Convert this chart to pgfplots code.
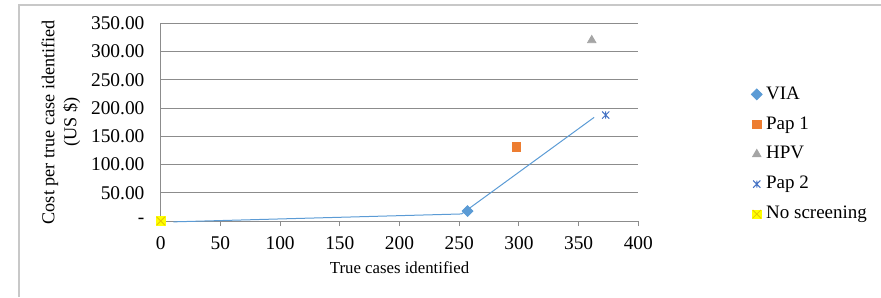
\documentclass[border=0pt]{standalone}
\usepackage{pgfplots}
\pgfplotsset{compat=1.18}
\usepackage{fontspec}
\setmainfont{Liberation Serif}
\definecolor{cvia}{HTML}{5B9BD5}
\definecolor{cpap}{HTML}{ED7D31}
\definecolor{chpv}{HTML}{A5A5A5}
\definecolor{cpap2}{HTML}{4472C4}
\definecolor{cnone}{HTML}{FFFF00}
\definecolor{cnonex}{HTML}{E6C800}
\definecolor{cgrid}{HTML}{8C8C8C}
\definecolor{cframe}{HTML}{C8C8C8}
\pgfdeclareplotmark{xstar}{%
  \pgfpathmoveto{\pgfqpoint{-\pgfplotmarksize}{-\pgfplotmarksize}}%
  \pgfpathlineto{\pgfqpoint{\pgfplotmarksize}{\pgfplotmarksize}}%
  \pgfpathmoveto{\pgfqpoint{-\pgfplotmarksize}{\pgfplotmarksize}}%
  \pgfpathlineto{\pgfqpoint{\pgfplotmarksize}{-\pgfplotmarksize}}%
  \pgfpathmoveto{\pgfqpoint{0pt}{-\pgfplotmarksize}}%
  \pgfpathlineto{\pgfqpoint{0pt}{\pgfplotmarksize}}%
  \pgfusepathqstroke}
\pgfdeclareplotmark{xsquare}{%
  \pgfsetfillcolor{cnone}\pgfsetstrokecolor{cnone}%
  \pgfpathrectangle{\pgfqpoint{-\pgfplotmarksize}{-\pgfplotmarksize}}{\pgfqpoint{2\pgfplotmarksize}{2\pgfplotmarksize}}%
  \pgfusepathqfillstroke
  \pgfsetstrokecolor{cnonex}%
  \pgfpathmoveto{\pgfqpoint{-\pgfplotmarksize}{-\pgfplotmarksize}}%
  \pgfpathlineto{\pgfqpoint{\pgfplotmarksize}{\pgfplotmarksize}}%
  \pgfpathmoveto{\pgfqpoint{-\pgfplotmarksize}{\pgfplotmarksize}}%
  \pgfpathlineto{\pgfqpoint{\pgfplotmarksize}{-\pgfplotmarksize}}%
  \pgfusepathqstroke}
\begin{document}
\begin{tikzpicture}
\useasboundingbox (0,0) rectangle (440.5pt,148.5pt);
\draw[cframe,line width=0.8pt] (9.5pt,0pt) -- (9.5pt,146pt) -- (440.5pt,146pt);
\begin{axis}[
  at={(80.35pt,38pt)}, anchor=south west,
  scale only axis, width=238.8pt, height=98.85pt,
  xmin=0, xmax=400, ymin=0, ymax=350,
  clip=false,
  axis line style={cgrid, line width=0.5pt},
  axis x line*=bottom, axis y line*=left,
  x axis line style={-}, y axis line style={-},
  xtick={0,50,...,400},
  ytick={0,50,...,350},
  yticklabels={-\hspace{5.5pt},50.00,100.00,150.00,200.00,250.00,300.00,350.00},
  ymajorgrids, grid style={cgrid, line width=0.5pt},
  xtick style={cgrid, line width=0.5pt},
  xtick align=outside, major tick length=2.5pt,
  ytick style={draw=none},
  tick label style={font=\fontsize{9.7}{11}\selectfont},
  /pgf/number format/assume math mode=true,
  yticklabel style={xshift=-4.6pt},
  xticklabel style={yshift=-2pt},
  xlabel={True cases identified},
  xlabel style={font=\fontsize{8.4}{10}\selectfont, yshift=1pt},
  ylabel={Cost per true case identified\\(US \$)},
  ylabel style={font=\fontsize{9.1}{11}\selectfont, align=center, yshift=-1.5pt},
  legend style={at={(1.236,0.692)}, anchor=north west, draw=none, fill=none,
    font=\fontsize{9.5}{11}\selectfont, row sep=5.2pt, column sep=1pt, inner sep=0pt,
    nodes={inner sep=1pt}},
  legend cell align=left,
  legend image code/.code={\draw[#1] plot coordinates {(0pt,0pt)};},
]
\addplot[only marks, mark=square*, mark size=1.9pt, color=cvia, mark options={rotate=45}] coordinates {(257,17.7)};
\addlegendentry{VIA}
\addplot[only marks, mark=square*, mark size=2.1pt, color=cpap] coordinates {(298,131)};
\addlegendentry{Pap 1}
\addplot[only marks, mark=triangle*, mark size=2.4pt, color=chpv] coordinates {(361,320)};
\addlegendentry{HPV}
\addplot[only marks, mark=xstar, mark size=1.8pt, color=cpap2, line width=0.5pt] coordinates {(372.7,187.6)};
\addlegendentry{Pap 2}
\addplot[only marks, mark=xsquare, mark size=2.1pt, line width=0.4pt] coordinates {(0,0)};
\addlegendentry{No screening}
\addplot[cvia, line width=0.5pt, forget plot] coordinates {(10.6,-1.5) (252,12.5) (363,183.5)};
\end{axis}
\end{tikzpicture}
\end{document}
